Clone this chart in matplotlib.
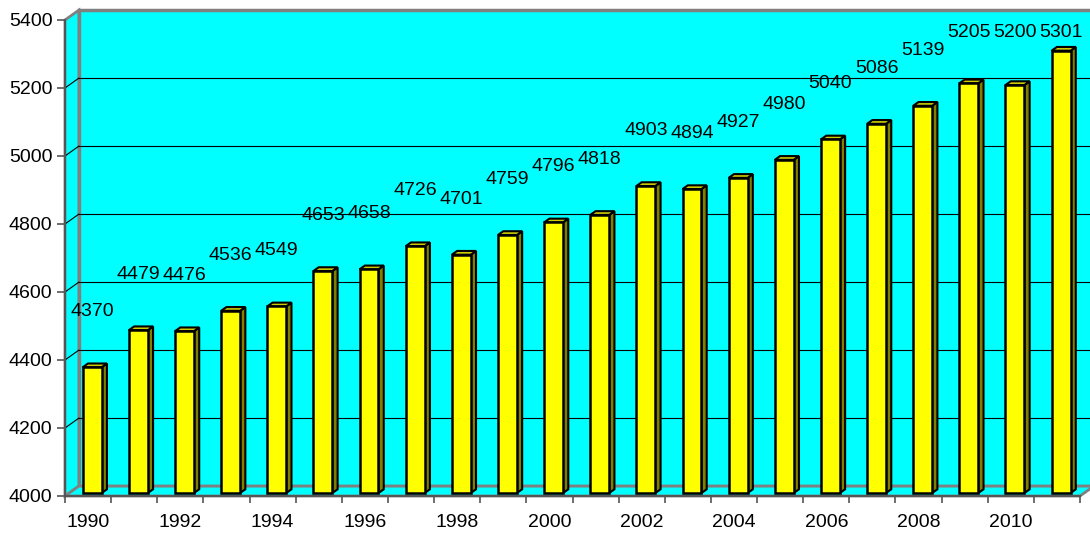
import numpy as np
import matplotlib.pyplot as plt
import matplotlib.patches as mpatches

plt.rcParams['font.family'] = ['Liberation Sans', 'DejaVu Sans']

years = list(range(1990, 2012))
values = [4370, 4479, 4476, 4536, 4549, 4653, 4658, 4726, 4701, 4759, 4796,
          4818, 4903, 4894, 4927, 4980, 5040, 5086, 5139, 5205, 5200, 5301]
y_ticks = [4000, 4200, 4400, 4600, 4800, 5000, 5200, 5400]

# 3D look (Excel style): depth offset of the back wall, in data units
ymin, ymax = 4000, 5400
dx, dy = 0.30, 29.0
f1, f2 = 0.30, 0.68          # bar front / back depth fraction
bar_w = 0.41

wall_color = '#00FFFF'
wall_edge = '#808080'
bar_front = '#FFFF00'
bar_top = '#CCCC00'
bar_side = '#808000'

fig = plt.figure(figsize=(10.9, 5.34), dpi=100)
ax = fig.add_axes([65 / 1090, 38 / 534, (1080 - 65) / 1090, (496 - 20) / 534])
n = len(years)
x0, x1 = -0.5, n - 0.5
ax.set_xlim(x0, x1)
ax.set_ylim(ymin, ymax)
ax.set_facecolor('none')

# walls
back = mpatches.Polygon([(x0 + dx, ymin + dy), (x1 + dx, ymin + dy),
                         (x1 + dx, ymax + dy), (x0 + dx, ymax + dy)],
                        closed=True, facecolor=wall_color, edgecolor=wall_edge,
                        lw=2.5, clip_on=False, zorder=0)
side = mpatches.Polygon([(x0, ymin), (x0 + dx, ymin + dy),
                         (x0 + dx, ymax + dy), (x0, ymax)],
                        closed=True, facecolor=wall_color, edgecolor=wall_edge,
                        lw=2, clip_on=False, zorder=0.5)
floor = mpatches.Polygon([(x0, ymin), (x1, ymin), (x1 + dx, ymin + dy),
                          (x0 + dx, ymin + dy)],
                         closed=True, facecolor=wall_color, edgecolor=wall_edge,
                         lw=2, clip_on=False, zorder=0.6)
for p in (back, side, floor):
    ax.add_patch(p)

# gridlines on back and side wall
for v in y_ticks[1:-1]:
    ax.plot([x0 + dx, x1 + dx], [v + dy, v + dy], color='black', lw=0.8,
            clip_on=False, zorder=1)
    ax.plot([x0, x0 + dx], [v, v + dy], color='black', lw=0.8,
            clip_on=False, zorder=1)

# bars
ddx, ddy = (f2 - f1) * dx, (f2 - f1) * dy
for i, v in enumerate(values):
    bx = i - bar_w / 2 + f1 * dx
    by = ymin + f1 * dy
    top = v + f1 * dy
    z = 3 + i * 0.01
    side_face = mpatches.Polygon([(bx + bar_w, by), (bx + bar_w + ddx, by + ddy),
                                  (bx + bar_w + ddx, top + ddy), (bx + bar_w, top)],
                                 closed=True, facecolor=bar_side, edgecolor='black',
                                 lw=1.5, clip_on=False, zorder=z)
    top_face = mpatches.Polygon([(bx, top), (bx + bar_w, top),
                                 (bx + bar_w + ddx, top + ddy), (bx + ddx, top + ddy)],
                                closed=True, facecolor=bar_top, edgecolor='black',
                                lw=1.5, clip_on=False, zorder=z)
    ax.add_patch(side_face)
    ax.add_patch(top_face)
    ax.bar(bx, top - by, width=bar_w, bottom=by, align='edge',
           color=bar_front, edgecolor='black', lw=1.8, zorder=z + 0.005)
    ax.text(i + f1 * dx, min(v + 172, 5362), str(v), ha='center', va='center',
            fontsize=14, zorder=5)

# axes
for s in ('top', 'right'):
    ax.spines[s].set_visible(False)
for s in ('left', 'bottom'):
    ax.spines[s].set_color('#555555')
    ax.spines[s].set_linewidth(1.5)
    ax.spines[s].set_zorder(2)
ax.set_yticks(y_ticks)
ax.tick_params(axis='y', length=6, width=1.2, color='#555555', labelsize=14, pad=3)
ax.set_xticks(np.arange(n + 1) - 0.5)
ax.set_xticklabels([])
ax.tick_params(axis='x', which='major', length=5, width=1.2, color='#555555')
ax.set_xticks(np.arange(0, n, 2), minor=True)
ax.set_xticklabels([str(y) for y in years[::2]], minor=True)
ax.tick_params(axis='x', which='minor', length=0, labelsize=14, pad=13)

fig.savefig('out.png', dpi=100, facecolor='white')
